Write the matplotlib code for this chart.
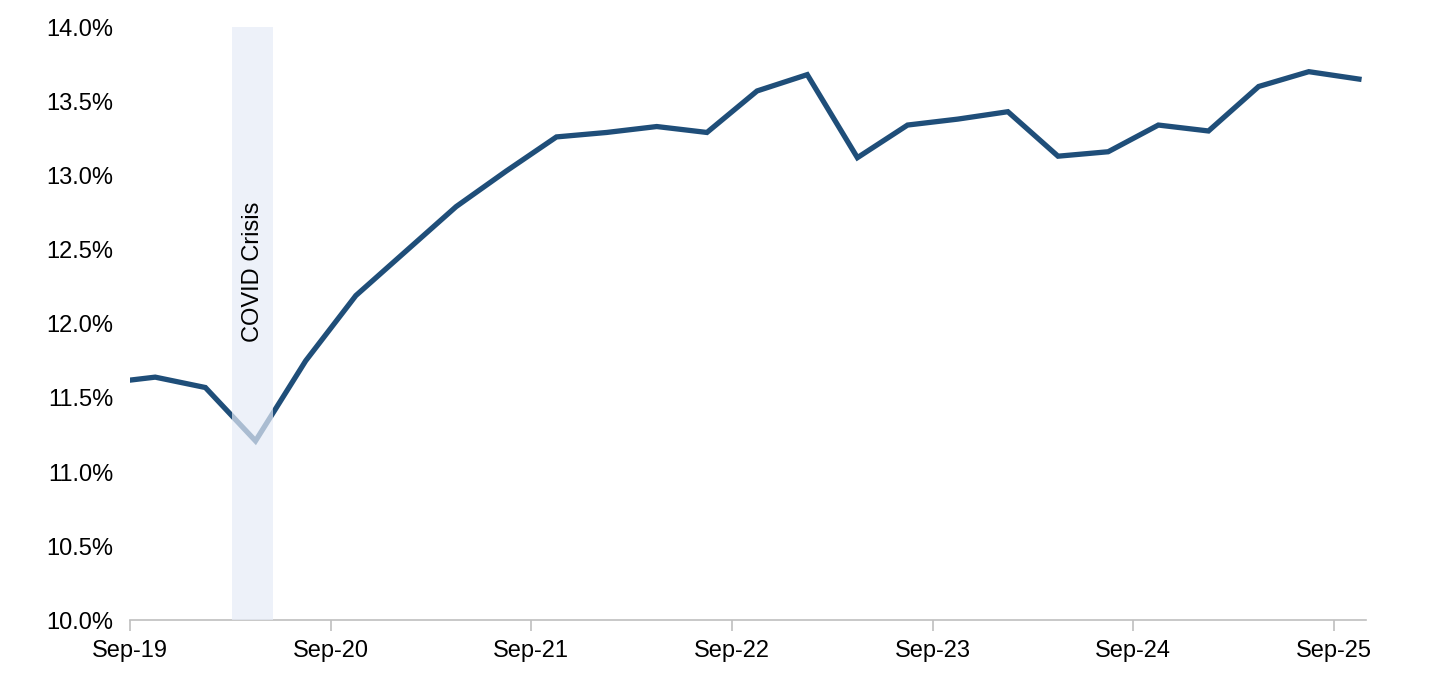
import numpy as np
import matplotlib.pyplot as plt
from matplotlib.ticker import FuncFormatter

plt.rcParams['font.family'] = ['Liberation Sans', 'DejaVu Sans']

# months since Sep-19
months = [0, 1.5, 4.5, 7.5, 10.5, 13.5, 16.5, 19.5, 22.5, 25.5, 28.5, 31.5, 34.5,
          37.5, 40.5, 43.5, 46.5, 49.5, 52.5, 55.5, 58.5, 61.5, 64.5, 67.5, 70.5, 73.5]
values = [11.62, 11.64, 11.57, 11.21, 11.75, 12.19, 12.49, 12.79, 13.03, 13.26, 13.29,
          13.33, 13.29, 13.57, 13.68, 13.12, 13.34, 13.38, 13.43, 13.13, 13.16, 13.34,
          13.30, 13.60, 13.70, 13.65]
tick_pos = [0, 12, 24, 36, 48, 60, 72]
tick_labels = ['Sep-19', 'Sep-20', 'Sep-21', 'Sep-22', 'Sep-23', 'Sep-24', 'Sep-25']
covid_start, covid_end = 6.1, 8.55

fig = plt.figure(figsize=(14.3, 6.97), dpi=100)
ax = fig.add_axes([0.091, 0.110, 0.864, 0.851])

ax.plot(months, values, color='#1F4E79', lw=3.8, solid_joinstyle='miter', zorder=2)
ax.axvspan(covid_start, covid_end, color='#E6ECF7', alpha=0.7, lw=0, zorder=3)
ax.text((covid_start + covid_end) / 2, 12.35, 'COVID Crisis', rotation=90,
        ha='center', va='center', fontsize=17, zorder=4)

ax.set_xlim(0, 73.9)
ax.set_ylim(10, 14)
ax.set_yticks(np.arange(10, 14.01, 0.5))
ax.yaxis.set_major_formatter(FuncFormatter(lambda v, p: f'{v:.1f}%'))
ax.set_xticks(tick_pos)
ax.set_xticklabels(tick_labels)
ax.tick_params(axis='y', length=0, labelsize=17, pad=12)
ax.tick_params(axis='x', length=8, width=1.2, color='#BFBFBF', labelsize=17, pad=6)
for s in ['top', 'right', 'left']:
    ax.spines[s].set_visible(False)
ax.spines['bottom'].set_color('#BFBFBF')
ax.spines['bottom'].set_linewidth(1.2)

fig.savefig('out.png', dpi=100)
